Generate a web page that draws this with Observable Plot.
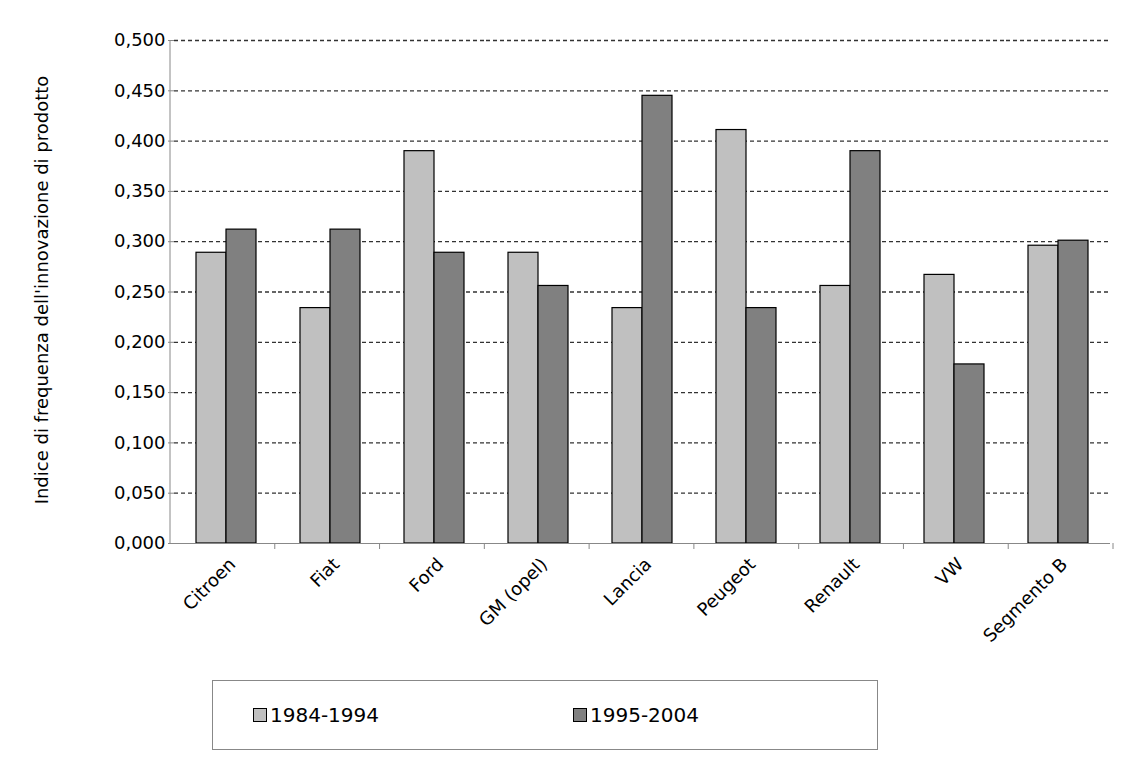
<script src="https://cdn.jsdelivr.net/npm/d3@7"></script>
<script src="https://cdn.jsdelivr.net/npm/@observablehq/plot@0.6"></script>
<div id="chart"></div>
<div id="legend"><span><i style="background:#c0c0c0"></i>1984-1994</span><span><i style="background:#808080"></i>1995-2004</span></div>
<style>
  body { margin: 0; background: #fff; font-family: Verdana, "DejaVu Sans", sans-serif; }
  #chart { position: relative; }
  #legend { position: absolute; left: 212px; top: 680px; width: 664px; height: 68px; border: 1px solid #888; display: flex; align-items: center; font-size: 20px; }
  #legend span { display: flex; align-items: center; }
  #legend span:first-child { margin-left: 40px; width: 320px; }
  #legend i { display: inline-block; width: 12px; height: 12px; border: 1px solid #000; margin-right: 3px; }
</style>
<script>
  const brands = ["Citroen", "Fiat", "Ford", "GM (opel)", "Lancia", "Peugeot", "Renault", "VW", "Segmento B"]
  const p1 = [0.289, 0.234, 0.390, 0.289, 0.234, 0.411, 0.256, 0.267, 0.296]
  const p2 = [0.312, 0.312, 0.289, 0.256, 0.445, 0.234, 0.390, 0.178, 0.301]
  const periods = ["1984-1994", "1995-2004"]

  let data = []
  brands.forEach((b, i) => {
    data.push({brand: b, period: periods[0], v: p1[i]})
    data.push({brand: b, period: periods[1], v: p2[i]})
  })
  const fmt = d => d.toFixed(3).replace(".", ",")

  const chart = Plot.plot({
    width: 1127, height: 650,
    marginLeft: 170, marginRight: 14, marginTop: 40, marginBottom: 107,
    style: {fontSize: "18px", fontFamily: "Verdana, 'DejaVu Sans', sans-serif", color: "#000"},
    fx: {domain: brands, padding: 0, label: null, axis: null},
    x: {domain: periods, paddingInner: 0, paddingOuter: 0.7, axis: null},
    y: {domain: [0, 0.5], label: null},
    color: {domain: periods, range: ["#c0c0c0", "#808080"]},
    marks: [
      Plot.gridY(d3.range(0.05, 0.501, 0.05), {stroke: "#333", strokeOpacity: 1, strokeDasharray: "4,3", strokeWidth: 1.3}),
      Plot.axisY(d3.range(0, 0.501, 0.05), {tickFormat: fmt, label: null, tickSize: 6, stroke: "#888", fontSize: 18}),
      Plot.axisFx({anchor: "bottom", tickRotate: -45, tickSize: 0, label: null, fontSize: 18, dy: 6, dx: 6}),
      Plot.barY(data, {fx: "brand", x: "period", y: "v", fill: "period", stroke: "#000", strokeWidth: 1.2}),
      Plot.ruleY([0], {stroke: "#888"})
    ]
  })
  const svg = d3.select(chart)
  svg.append("line").attr("x1", 170).attr("x2", 170).attr("y1", 40).attr("y2", 543).attr("stroke", "#888")
  brands.forEach((b, i) => {
    const x = 170 + (i + 1) * (1127 - 184) / 9
    svg.append("line").attr("x1", x).attr("x2", x).attr("y1", 543).attr("y2", 549).attr("stroke", "#888")
  })
  svg.append("text").attr("transform", "translate(48,290) rotate(-90)").attr("text-anchor", "middle")
    .attr("font-size", 18).text("Indice di frequenza dell'innovazione di prodotto")
  document.querySelector("#chart").append(chart)
</script>
